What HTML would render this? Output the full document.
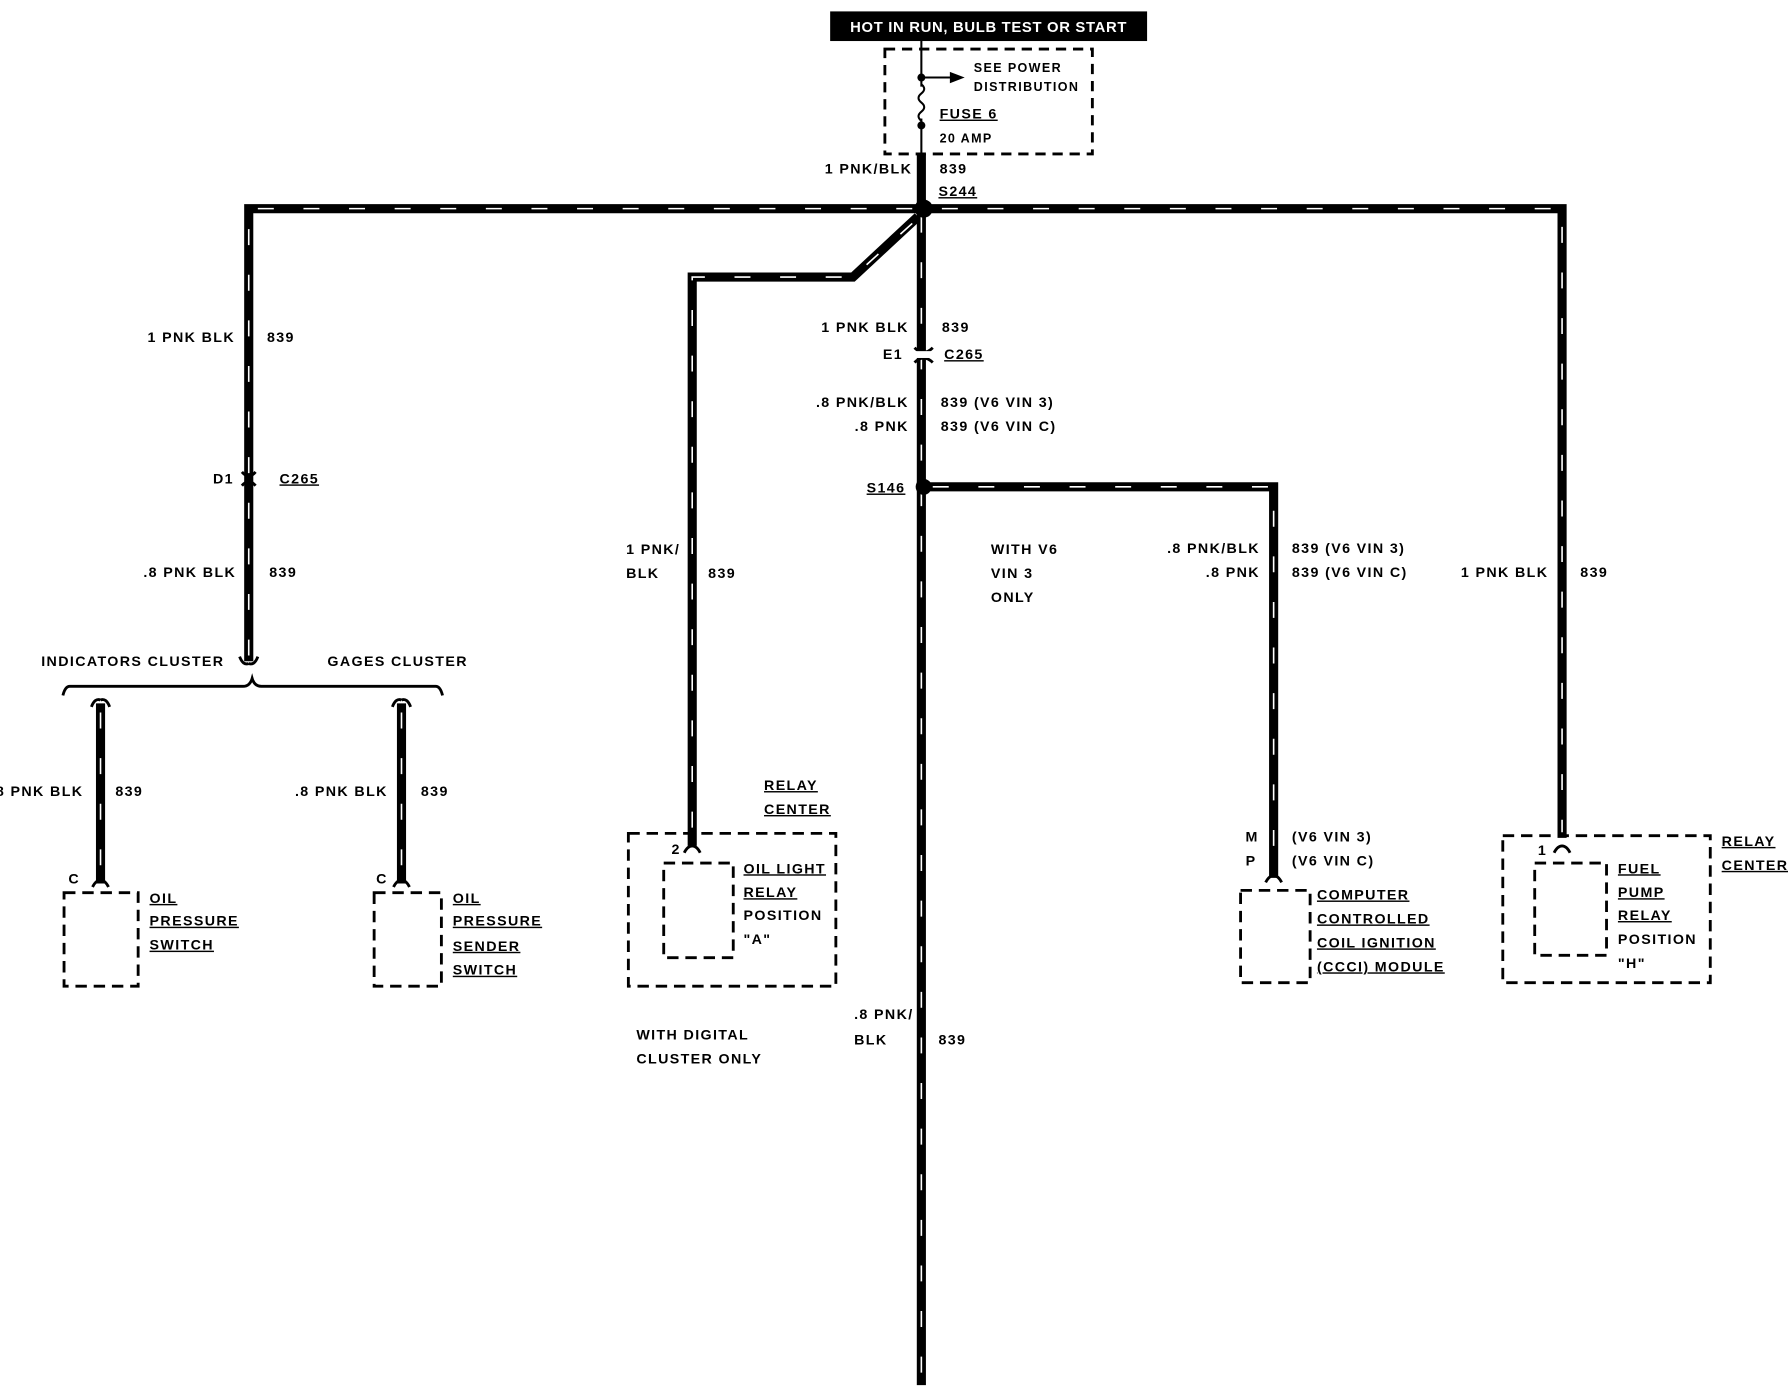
<!DOCTYPE html>
<html><head><meta charset="utf-8"><style>
html,body{margin:0;padding:0;background:#fff}
svg{display:block}
text{font-family:"Liberation Sans",sans-serif;font-weight:bold;font-size:12.5px;letter-spacing:1.2px;fill:#000}
.u{text-decoration:underline}
</style></head><body>
<svg width="1788" height="1392" viewBox="0 0 1568 1221" xmlns="http://www.w3.org/2000/svg">
<defs>
<g id="x"></g>
</defs>
<!-- top label -->
<rect x="728" y="10" width="278" height="26" fill="#000"/>
<text x="867" y="28" text-anchor="middle" style="fill:#fff;font-size:13px;letter-spacing:0.6px">HOT IN RUN, BULB TEST OR START</text>
<rect x="776" y="43" width="182" height="92" fill="none" stroke="#000" stroke-width="2.5" stroke-dasharray="9,6"/>
<line x1="808" y1="36" x2="808" y2="135" stroke="#000" stroke-width="1.8"/>
<circle cx="808" cy="68" r="3.5"/><line x1="808" y1="68" x2="835" y2="68" stroke="#000" stroke-width="1.8"/>
<polygon points="833,63 846,68 833,73"/>
<rect x="804" y="76" width="9" height="28" fill="#fff"/>
<path d="M808,74 q5,4 0,8 q-5,4 0,8 q5,4 0,8 q-5,4 0,8" fill="none" stroke="#000" stroke-width="1.8"/>
<circle cx="808" cy="110" r="3.5"/>
<text x="854" y="63" style="font-size:11px">SEE POWER</text>
<text x="854" y="80" style="font-size:11px">DISTRIBUTION</text>
<text x="824" y="104" class="u">FUSE 6</text>
<text x="824" y="125" style="font-size:11px">20 AMP</text>
<text x="800" y="152" text-anchor="end">1 PNK/BLK</text>
<text x="824" y="152">839</text>
<text x="823" y="172" class="u">S244</text>

<g fill="none" stroke="#000" stroke-width="8" stroke-linejoin="miter">
<path d="M808,135 V1215"/>
<path d="M218,580 V183 H1370 V735"/>
<path d="M805,190 L748,243 H607 V742"/>
<path d="M810,427 H1117 V770"/>
<path d="M88,617 V775"/>
<path d="M352,617 V775"/>
</g>
<g fill="none" stroke="#fff" stroke-width="1.4" stroke-dasharray="14,26">
<path d="M808,190 V1210"/>
<path d="M218,575 V183 H1370 V730"/>
<path d="M800,196 L748,243 H607 V737"/>
<path d="M818,427 H1117 V765"/>
<path d="M88,625 V770"/>
<path d="M352,625 V770"/>
</g>
<circle cx="810" cy="183" r="8"/>
<circle cx="810" cy="427" r="7"/>

<!-- connectors -->
<g fill="none" stroke="#000" stroke-width="2.5">
<path d="M802,305 q8,8 16,0"/><path d="M802,318 q8,-8 16,0"/>
<path d="M212,414 q6,7 12,0"/><path d="M212,426 q6,-7 12,0"/>
<path d="M210,576 q3,8 8,6 M226,576 q-3,8 -8,6"/>
<path d="M55,610 q2,-8 6,-8 H213 q6,0 8,-7 q2,7 8,7 H382 q4,0 6,8"/>
<path d="M80,620 q3,-8 8,-6 M96,620 q-3,-8 -8,-6"/>
<path d="M344,620 q3,-8 8,-6 M360,620 q-3,-8 -8,-6"/>
<path d="M81,778 q3,-6 7,-6 q4,0 7,6"/>
<path d="M345,778 q3,-6 7,-6 q4,0 7,6"/>
<path d="M600,748 q3,-6 7,-6 q4,0 7,6"/>
<path d="M1110,774 q3,-6 7,-6 q4,0 7,6"/>
<path d="M1363,748 q3,-6 7,-6 q4,0 7,6"/>
</g>
<rect x="802" y="308" width="16" height="6" fill="#fff"/>

<!-- boxes -->
<g fill="none" stroke="#000" stroke-width="2.5" stroke-dasharray="10,6">
<rect x="56" y="783" width="65" height="82"/>
<rect x="328" y="783" width="59" height="82"/>
<rect x="551" y="731" width="182" height="134"/>
<rect x="582" y="757" width="61" height="83"/>
<rect x="1088" y="781" width="61" height="81"/>
<rect x="1318" y="733" width="182" height="129"/>
<rect x="1346" y="757" width="63" height="81"/>
</g>

<!-- labels -->
<text x="206" y="300" text-anchor="end">1 PNK BLK</text><text x="234" y="300">839</text>
<text x="205" y="424" text-anchor="end">D1</text><text x="245" y="424" class="u">C265</text>
<text x="207" y="506" text-anchor="end">.8 PNK BLK</text><text x="236" y="506">839</text>
<text x="36" y="584">INDICATORS CLUSTER</text><text x="287" y="584">GAGES CLUSTER</text>
<text x="73" y="698" text-anchor="end">8 PNK BLK</text><text x="101" y="698">839</text>
<text x="340" y="698" text-anchor="end">.8 PNK BLK</text><text x="369" y="698">839</text>
<text x="70" y="775" text-anchor="end">C</text><text x="340" y="775" text-anchor="end">C</text>
<text x="131" y="792" class="u">OIL</text><text x="131" y="812" class="u">PRESSURE</text><text x="131" y="833" class="u">SWITCH</text>
<text x="397" y="792" class="u">OIL</text><text x="397" y="812" class="u">PRESSURE</text><text x="397" y="834" class="u">SENDER</text><text x="397" y="855" class="u">SWITCH</text>
<text x="549" y="486">1 PNK/</text><text x="549" y="507">BLK</text><text x="621" y="507">839</text>
<text x="670" y="693" class="u">RELAY</text><text x="670" y="714" class="u">CENTER</text>
<text x="597" y="749" text-anchor="end">2</text>
<text x="652" y="766" class="u">OIL LIGHT</text><text x="652" y="787" class="u">RELAY</text><text x="652" y="807">POSITION</text><text x="652" y="828">"A"</text>
<text x="558" y="912">WITH DIGITAL</text><text x="558" y="933">CLUSTER ONLY</text>
<text x="797" y="291" text-anchor="end">1 PNK BLK</text><text x="826" y="291">839</text>
<text x="792" y="315" text-anchor="end">E1</text><text x="828" y="315" class="u">C265</text>
<text x="797" y="357" text-anchor="end">.8 PNK/BLK</text><text x="825" y="357">839 (V6 VIN 3)</text>
<text x="797" y="378" text-anchor="end">.8 PNK</text><text x="825" y="378">839 (V6 VIN C)</text>
<text x="794" y="432" text-anchor="end" class="u">S146</text>
<text x="869" y="486">WITH V6</text><text x="869" y="507">VIN 3</text><text x="869" y="528">ONLY</text>
<text x="749" y="894">.8 PNK/</text><text x="749" y="916">BLK</text><text x="823" y="916">839</text>
<text x="1105" y="485" text-anchor="end">.8 PNK/BLK</text><text x="1133" y="485">839 (V6 VIN 3)</text>
<text x="1105" y="506" text-anchor="end">.8 PNK</text><text x="1133" y="506">839 (V6 VIN C)</text>
<text x="1104" y="738" text-anchor="end">M</text><text x="1133" y="738">(V6 VIN 3)</text>
<text x="1102" y="759" text-anchor="end">P</text><text x="1133" y="759">(V6 VIN C)</text>
<text x="1155" y="789" class="u">COMPUTER</text><text x="1155" y="810" class="u">CONTROLLED</text><text x="1155" y="831" class="u">COIL IGNITION</text><text x="1155" y="852" class="u">(CCCI) MODULE</text>
<text x="1358" y="506" text-anchor="end">1 PNK BLK</text><text x="1386" y="506">839</text>
<text x="1357" y="750" text-anchor="end">1</text>
<text x="1510" y="742" class="u">RELAY</text><text x="1510" y="763" class="u">CENTER</text>
<text x="1419" y="766" class="u">FUEL</text><text x="1419" y="787" class="u">PUMP</text><text x="1419" y="807" class="u">RELAY</text><text x="1419" y="828">POSITION</text><text x="1419" y="849">"H"</text>
</svg>
</body></html>
